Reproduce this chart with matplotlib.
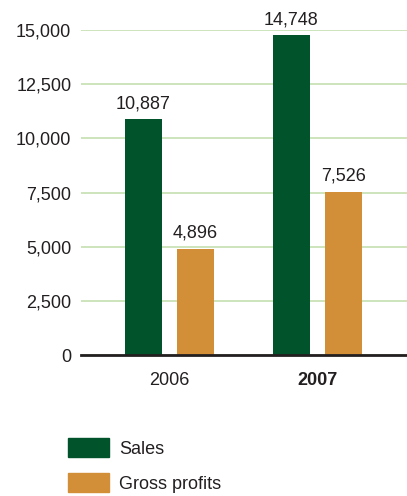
import matplotlib.pyplot as plt
from matplotlib.patches import Patch
import numpy as np

years = ["2006", "2007"]
sales = [10887, 14748]
gross = [4896, 7526]
series_names = ["Sales", "Gross profits"]
yticks = [0, 2500, 5000, 7500, 10000, 12500, 15000]

green = "#00532a"
orange = "#d38f37"
txt = "#231f20"

plt.rcParams['font.family'] = ['Liberation Sans', 'DejaVu Sans']

fig = plt.figure(figsize=(4.07, 4.96), dpi=100)
ax = fig.add_axes([81 / 407, 141 / 496, 326 / 407, 325 / 496])

x = np.arange(len(years))
w = 0.25
off = 0.176

b1 = ax.bar(x - off, sales, w, color=green, zorder=3)
b2 = ax.bar(x + off, gross, w, color=orange, zorder=3)

for bars, vals in [(b1, sales), (b2, gross)]:
    for b, v in zip(bars, vals):
        ax.annotate(f"{v:,}", (b.get_x() + b.get_width() / 2, v),
                    xytext=(0, 5), textcoords="offset points",
                    ha="center", va="bottom", fontsize=13, color=txt)

ax.set_xlim(-0.598, 1.605)
ax.set_ylim(0, 15000)
ax.set_yticks(yticks)
ax.set_yticklabels([f"{t:,}" for t in yticks])
ax.set_xticks(x)
ax.set_xticklabels(years)
ax.get_xticklabels()[1].set_fontweight("bold")
ax.tick_params(axis="both", length=0, labelsize=13, labelcolor=txt)
ax.tick_params(axis="y", pad=7)
ax.tick_params(axis="x", pad=12)

ax.grid(axis="y", color="#c5dfb0", linewidth=1.2, zorder=0)
for s in ["top", "right", "left"]:
    ax.spines[s].set_visible(False)
ax.spines["bottom"].set_color(txt)
ax.spines["bottom"].set_linewidth(2)
ax.spines["bottom"].set_zorder(4)

handles = [Patch(color=green), Patch(color=orange)]
fig.legend(handles, series_names, loc="upper left",
           bbox_to_anchor=(52 / 407, 1 - 422 / 496),
           frameon=False, fontsize=13, handlelength=2.25, handleheight=1.25,
           labelspacing=0.85, handletextpad=0.55, labelcolor=txt)

fig.savefig("out.png", dpi=100)
